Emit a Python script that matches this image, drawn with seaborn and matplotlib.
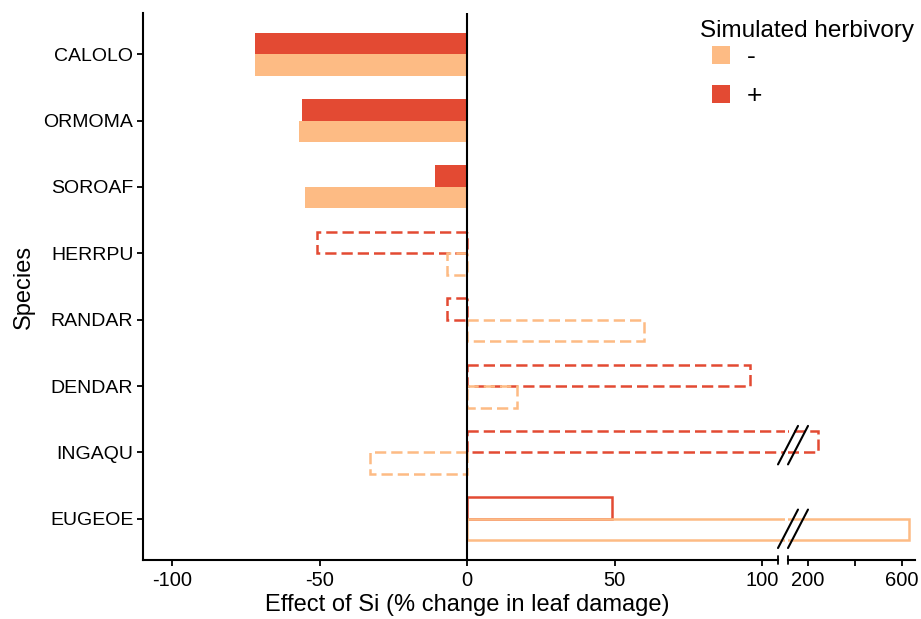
import numpy as np
import pandas as pd
import seaborn as sns
import matplotlib.pyplot as plt
from matplotlib.patches import Patch
from matplotlib.lines import Line2D
from matplotlib.transforms import blended_transform_factory

# data
species = ['CALOLO', 'ORMOMA', 'SOROAF', 'HERRPU', 'RANDAR', 'DENDAR', 'INGAQU', 'EUGEOE']
effect_plus = [-72, -56, -11, -51, -7, 96, 242, 49]     # with simulated herbivory
effect_minus = [-72, -57, -55, -7, 60, 17, -33, 630]    # without
herbivory_levels = ['-', '+']

# how each species' bars are drawn (filled / dashed outline / solid outline)
bar_style = {'CALOLO': 'fill', 'ORMOMA': 'fill', 'SOROAF': 'fill',
             'HERRPU': 'dash', 'RANDAR': 'dash', 'DENDAR': 'dash', 'INGAQU': 'dash',
             'EUGEOE': 'line'}
colors = {'-': '#fdbb84', '+': '#e34a33'}

df = pd.DataFrame({
    'Species': species * 2,
    'Herbivory': ['+'] * len(species) + ['-'] * len(species),
    'Effect': effect_plus + effect_minus,
})

sns.set_style('ticks')
plt.rcParams['font.family'] = ['Liberation Sans', 'DejaVu Sans']
plt.rcParams.update({'text.color': 'black', 'axes.labelcolor': 'black',
                     'xtick.color': 'black', 'ytick.color': 'black',
                     'axes.edgecolor': 'black'})

fig = plt.figure(figsize=(9.21, 6.19), dpi=100)
W, H = 921, 619
bot = 1 - 560 / H
hgt = (560 - 13) / H
# left panel runs a little past its axis line so the long bars reach the break
ax1 = fig.add_axes([143 / W, bot, (785 - 143) / W, hgt])
ax2 = fig.add_axes([788 / W, bot, (915 - 788) / W, hgt], sharey=ax1)

for ax in (ax1, ax2):
    ax.patch.set_alpha(0)
    sns.barplot(data=df, x='Effect', y='Species', hue='Herbivory', hue_order=['+', '-'],
                order=species, palette=colors, width=0.65, orient='h',
                errorbar=None, legend=False, ax=ax)
    for lvl, cont in zip(['+', '-'], ax.containers):
        for sp, bar in zip(species, cont):
            st = bar_style[sp]
            if st == 'fill':
                bar.set_facecolor(colors[lvl])
                bar.set_edgecolor('none')
            else:
                bar.set_facecolor('none')
                bar.set_edgecolor(colors[lvl])
                bar.set_linewidth(1.8)
                if st == 'dash':
                    bar.set_linestyle((0, (4.5, 2)))

ax1.set_xlim(-110, 107.85)
ax1.spines['bottom'].set_bounds(-110, 105.5)
ax2.set_xlim(116, 655)
ax1.set_ylim(7.62, -0.62)

ax1.axvline(0, color='black', lw=1.5, zorder=5)

ax1.set_xticks([-100, -50, 0, 50, 100])
ax1.set_xticklabels(['-100', '-50', '0', '50', '100'])
ax2.set_xticks([200, 400, 600])
ax2.set_xticklabels(['200', '', '600'])

for ax in (ax1, ax2):
    ax.spines['top'].set_visible(False)
    ax.spines['right'].set_visible(False)
    ax.spines['bottom'].set_linewidth(1.5)
    ax.tick_params(axis='x', length=4, width=1.3, labelsize=14.5, pad=4)
ax1.spines['left'].set_linewidth(1.5)
ax1.tick_params(axis='y', length=4, width=1.3, labelsize=14, pad=3)
ax2.spines['left'].set_visible(False)
ax2.tick_params(axis='y', left=False, labelleft=False)
ax2.set_ylabel('')
ax2.set_xlabel('')

ax1.set_xlabel('Effect of Si (% change in leaf damage)', fontsize=17)
ax1.xaxis.set_label_coords((467 - 143) / (785 - 143), -0.062)
ax1.set_ylabel('Species', fontsize=17, labelpad=6)

# axis break: end caps on the x axis
trx1 = blended_transform_factory(ax1.transData, ax1.transAxes)
ax1.plot([105.5, 105.5], [-0.008, 0.008], transform=trx1,
         color='black', lw=1.3, clip_on=False)
ax2.plot([0, 0], [-0.008, 0.008], transform=ax2.transAxes,
         color='black', lw=1.3, clip_on=False)

# break slashes across the long bars
tr = blended_transform_factory(fig.transFigure, ax1.transData)
for sp in ['INGAQU', 'EUGEOE']:
    yc = species.index(sp) + (-0.11 if sp == 'INGAQU' else 0.15)
    for x0 in (778, 788):
        fig.add_artist(Line2D([x0 / W, (x0 + 20) / W], [yc + 0.29, yc - 0.29],
                              transform=tr, color='black', lw=1.5, zorder=10))

fig.text(700 / W, 1 - 31 / H, 'Simulated herbivory', fontsize=17.5, va='center', ha='left')
handles = [Patch(facecolor=colors[l], edgecolor='none') for l in herbivory_levels]
fig.legend(handles, herbivory_levels, loc='upper left',
           bbox_to_anchor=(712 / W, 1 - 45 / H),
           frameon=False, fontsize=19,
           handlelength=0.68, handleheight=0.68, labelspacing=0.58,
           handletextpad=0.65, borderaxespad=0, borderpad=0)

fig.savefig('out.png', dpi=100)
